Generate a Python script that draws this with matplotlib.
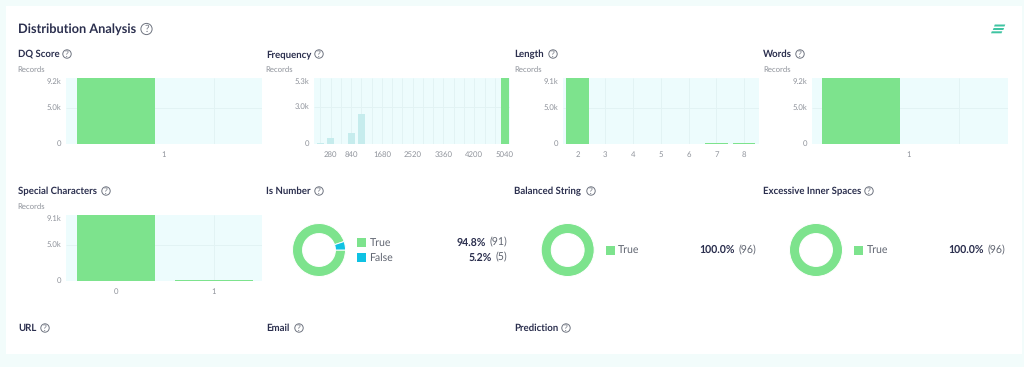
import matplotlib
matplotlib.use("Agg")
import matplotlib.pyplot as plt
from matplotlib.patches import Rectangle, Circle, Polygon

W, H = 1024, 367
plt.rcParams['font.family'] = ['Lato', 'DejaVu Sans']
plt.rcParams['text.hinting'] = 'no_hinting'
plt.rcParams['text.hinting_factor'] = 8

# ---- data ----
dq_x = [0]
dq_y = [9200]
freq_x = [0, 280, 840, 1120, 5040]
freq_y = [60, 460, 860, 2400, 5300]
freq_ticks = [280, 840, 1680, 2520, 3360, 4200, 5040]
len_x = [2, 3, 4, 5, 6, 7, 8]
len_y = [9100, 5, 5, 5, 20, 90, 70]
words_x = [0]
words_y = [9200]
spec_x = [0, 1]
spec_y = [9100, 100]
num_labels = ['True', 'False']
num_vals = [91, 5]
num_pcts = ['94.8%', '5.2%']
bal_vals = [96]
exc_vals = [96]

BG = '#f2fcfb'
PLOT = '#edfcfd'
GRID = '#e2f3f4'
GREEN = '#7de38d'
PALE = '#c6eced'
BLUE = '#0fc2e3'
DARK = '#2b2f4e'
GREY = '#8f939b'

fig = plt.figure(figsize=(W / 100, H / 100), dpi=100, facecolor=BG)
ov = fig.add_axes([0, 0, 1, 1], zorder=5)
ov.set_xlim(0, W); ov.set_ylim(H, 0); ov.axis('off'); ov.patch.set_alpha(0)
ov.add_patch(Rectangle((6, 6), 1016, 347.5, fc='white', ec='none', zorder=0))


def px_axes(x0, y0, x1, y1):
    return fig.add_axes([x0 / W, 1 - y1 / H, (x1 - x0) / W, (y1 - y0) / H], zorder=6)


def help_icon(cx, cy, r=4.2, size=6.2):
    ov.add_patch(Circle((cx, cy), r, fc='none', ec='#6f7480', lw=0.7))
    ov.text(cx, cy + 0.2, '?', fontsize=size, color='#6f7480', ha='center', va='center')


def heading(x, y, s, icon_x):
    ov.text(x, y + 3, s, fontsize=6.9, fontweight='bold', color=DARK, va='baseline', ha='left')
    help_icon(icon_x, y)


def bar_panel(x0, y0, xs, ys, width, xlim, ymax, ytop, ymid, ticks, labels, vgrid, colors=GREEN):
    ax = px_axes(x0, y0, x0 + 196, y0 + 66)
    ax.set_facecolor(PLOT)
    ax.set_xlim(*xlim); ax.set_ylim(0, ymax)
    for s in ax.spines.values():
        s.set_visible(False)
    ax.set_axisbelow(True)
    ax.vlines(vgrid, 0, ymax, color=GRID, lw=0.7, zorder=1)
    ax.hlines(ymid, *xlim, color=GRID, lw=0.7, zorder=1)
    ax.bar(xs, ys, width=width, color=colors, zorder=2)
    ax.set_xticks(ticks); ax.set_xticklabels(labels)
    ax.set_yticks([])
    ax.tick_params(axis='x', length=0, labelsize=5.6, labelcolor=GREY, pad=5)
    # y tick labels sit just left of the plot
    ypx = lambda v: y0 + 66 - v / ymax * 66
    ov.text(x0 - 5, y0 + 4, ytop, fontsize=5.6, color=GREY, ha='right', va='center')
    ov.text(x0 - 5, ypx(ymid), f'{ymid / 1000:.1f}k', fontsize=5.6, color=GREY, ha='right', va='center')
    ov.text(x0 - 5, y0 + 66, '0', fontsize=5.6, color=GREY, ha='right', va='center')
    ov.text(x0 - 48.5, y0 - 8.5, 'Records', fontsize=5.6, color=GREY, ha='left', va='center')
    return ax


def donut(cx, cy, vals, colors, start):
    r = 26.5
    ax = px_axes(cx - r, cy - r, cx + r, cy + r)
    ax.pie(vals, colors=colors, startangle=start, radius=1, counterclock=True,
           wedgeprops=dict(width=0.38, edgecolor='white', linewidth=0.7))
    ax.set_xlim(-1, 1); ax.set_ylim(-1, 1)
    ax.set_aspect('equal')
    ax.patch.set_alpha(0)


def legend_row(x_sq, x_right, y, color, label, pct, count):
    ov.add_patch(Rectangle((x_sq, y - 4.5), 9, 9, fc=color, ec='none'))
    ov.text(x_sq + 12.5, y + 3.3, label, fontsize=7.6, color='#5f6470', va='baseline', ha='left')
    t = ov.text(x_right, y + 3.3, f'({count})', fontsize=7.6, color='#5f6470', va='baseline', ha='right')
    fig.canvas.draw()
    bb = t.get_window_extent()
    ov.text(bb.x0 - 3, y + 3.3, pct, fontsize=7.6, fontweight='bold', color=DARK, va='baseline', ha='right')


# header
ov.text(18, 33, 'Distribution Analysis', fontsize=9.2, fontweight='bold', color=DARK, va='baseline', ha='left')
help_icon(146.5, 29, r=5.6, size=7.4)
for xa, y in [(994, 25.5), (992.8, 29), (991, 32.3)]:
    w = 10.5
    ov.add_patch(Polygon([(xa + 0.8, y - 1), (xa + w + 0.8, y - 1), (xa + w, y + 1), (xa, y + 1)], fc='#3fc4a2', ec='none'))

# headings
heading(18, 54, 'DQ Score', 67)
heading(266, 54, 'Frequency', 319)
heading(514, 54, 'Length', 553)
heading(763, 54, 'Words', 800)
heading(18, 191, 'Special Characters', 106)
heading(266, 191, 'Is Number', 319)
heading(514, 191, 'Balanced String', 591)
heading(763, 191, 'Excessive Inner Spaces', 869)
heading(18, 328, 'URL', 45)
heading(266, 328, 'Email', 299)
heading(514, 328, 'Prediction', 566)

# bar panels
bar_panel(66, 78, dq_x, dq_y, 0.8, (-0.508, 1.492), 9200, '9.2k', 5000, [0.49], ['1'], [1.0])
fx = (0 - (320.4 - 314) / 0.03663, 0 + (510 - 320.4) / 0.03663)
bar_panel(314, 78, freq_x, freq_y, 200, fx, 5300, '5.3k', 3000, freq_ticks, [str(t) for t in freq_ticks],
          [280 * i for i in range(0, 19)], colors=[PALE, PALE, PALE, PALE, GREEN])
bar_panel(563, 78, len_x, len_y, 0.8, (1.48, 8.53), 9100, '9.1k', 5000, len_x, [str(v) for v in len_x], len_x[1:])
bar_panel(812, 78, words_x, words_y, 0.8, (-0.5, 1.5), 9200, '9.2k', 5000, [0.49], ['1'], [1.0])
bar_panel(66, 215, spec_x, spec_y, 0.8, (-0.508, 1.492), 9100, '9.1k', 5000, spec_x, [str(v) for v in spec_x], [1.0])

# donuts
donut(319, 250, num_vals, [GREEN, BLUE], 18.75)
donut(567.7, 250, bal_vals, [GREEN], 0)
donut(816, 250, exc_vals, [GREEN], 0)

legend_row(357, 507, 242.5, GREEN, num_labels[0], num_pcts[0], num_vals[0])
legend_row(357, 507, 257.5, BLUE, num_labels[1], num_pcts[1], num_vals[1])
legend_row(605.5, 756, 250, GREEN, 'True', '100.0%', bal_vals[0])
legend_row(854, 1005, 250, GREEN, 'True', '100.0%', exc_vals[0])

fig.savefig('out.png', dpi=100, facecolor=BG)
